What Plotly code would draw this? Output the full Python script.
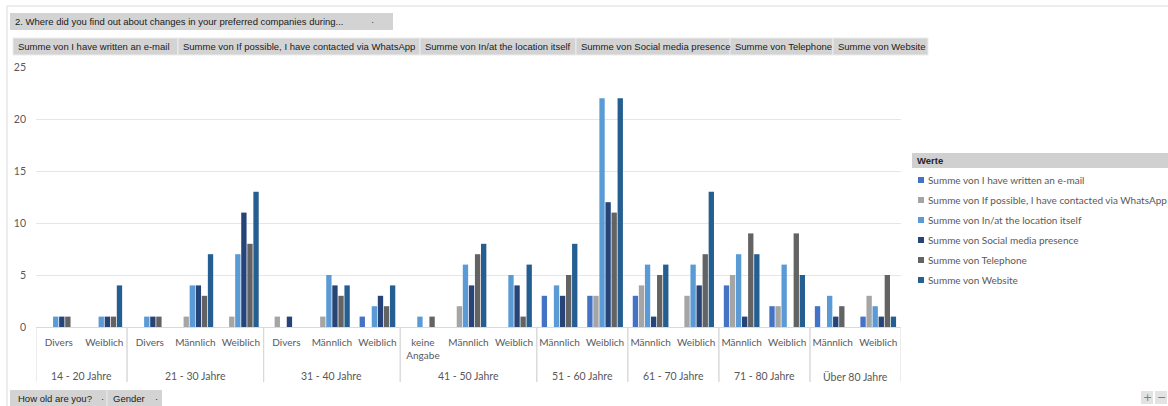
import plotly.graph_objects as go

# ---- data ----
age_groups = ["14 - 20 Jahre", "14 - 20 Jahre",
              "21 - 30 Jahre", "21 - 30 Jahre", "21 - 30 Jahre",
              "31 - 40 Jahre", "31 - 40 Jahre", "31 - 40 Jahre",
              "41 - 50 Jahre", "41 - 50 Jahre", "41 - 50 Jahre",
              "51 - 60 Jahre", "51 - 60 Jahre",
              "61 - 70 Jahre", "61 - 70 Jahre",
              "71 - 80 Jahre", "71 - 80 Jahre",
              "Über 80 Jahre", "Über 80 Jahre"]
genders = ["Divers", "Weiblich",
           "Divers", "Männlich", "Weiblich",
           "Divers", "Männlich", "Weiblich",
           "keine<br>Angabe", "Männlich", "Weiblich",
           "Männlich", "Weiblich",
           "Männlich", "Weiblich",
           "Männlich", "Weiblich",
           "Männlich", "Weiblich"]

series_names = ["Summe von I have written an e-mail",
                "Summe von If possible, I have contacted via WhatsApp",
                "Summe von In/at the location itself",
                "Summe von Social media presence",
                "Summe von Telephone",
                "Summe von Website"]

email     = [0, 0, 0, 0, 0, 0, 0, 1, 0, 0, 0, 3, 3, 3, 0, 4, 2, 2, 1]
whatsapp  = [0, 0, 0, 1, 1, 1, 1, 0, 0, 2, 0, 0, 3, 4, 3, 5, 2, 0, 3]
location  = [1, 1, 1, 4, 7, 0, 5, 2, 1, 6, 5, 4, 22, 6, 6, 7, 6, 3, 2]
social    = [1, 1, 1, 4, 11, 1, 4, 3, 0, 4, 4, 3, 12, 1, 4, 1, 0, 1, 1]
telephone = [1, 1, 1, 3, 8, 0, 3, 2, 1, 7, 1, 5, 11, 5, 7, 9, 9, 2, 5]
website   = [0, 4, 0, 7, 13, 0, 4, 4, 0, 8, 6, 8, 22, 6, 13, 7, 5, 0, 1]

series_values = [email, whatsapp, location, social, telephone, website]
series_colors = ["#4472C4", "#A5A5A5", "#5B9BD5", "#264478", "#636363", "#255E91"]

y_ticks = [0, 5, 10, 15, 20, 25]

filter_title = "2. Where did you find out about changes in your preferred companies during..."
legend_title = "Werte"
bottom_fields = ["How old are you?", "Gender"]

# ---- layout helpers (pixel -> paper) ----
W, H = 1168, 406
L, R, T, B = 36, 901, 67, 327


def px(x):
    return (x - L) / (R - L)


def py(y):
    return (B - y) / (B - T)


# unique category keys (age group + gender)
cat_keys = [a + " | " + g for a, g in zip(age_groups, genders)]

fig = go.Figure()
for name, vals, col in zip(series_names, series_values, series_colors):
    fig.add_trace(go.Bar(x=cat_keys, y=vals, name=name,
                         marker=dict(color=col, line=dict(width=0)),
                         showlegend=False))

shapes = []
annots = []
FONT_BTN = "Liberation Sans"
BTN_SIZE = 9.5
FONT = "Lato"

# outer border
shapes.append(dict(type="rect", xref="paper", yref="paper", x0=px(7), x1=px(1180),
                   y0=py(420), y1=py(6), line=dict(color="#d9d9d9", width=1),
                   fillcolor="rgba(0,0,0,0)", layer="below"))

# group dividers and outer (age group) labels
groups = []
for i, a in enumerate(age_groups):
    if not groups or groups[-1][0] != a:
        groups.append([a, i, i])
    else:
        groups[-1][2] = i
for a, i0, i1 in groups:
    for xe in (i0 - 0.5, i1 + 0.5):
        shapes.append(dict(type="line", xref="x", yref="paper", x0=xe, x1=xe,
                           y0=py(382), y1=py(327), line=dict(color="#d9d9d9", width=1)))
    annots.append(dict(xref="x", yref="paper", x=(i0 + i1) / 2, y=py(376), text=a,
                       showarrow=False, xanchor="center", yanchor="middle",
                       font=dict(family=FONT, size=10.5, color="#595959")))

# top filter button
shapes.append(dict(type="rect", xref="paper", yref="paper", x0=px(10), x1=px(393),
                   y0=py(30), y1=py(13), line=dict(width=0), fillcolor="#d3d3d3", layer="below"))
annots.append(dict(xref="paper", yref="paper", x=px(13), y=py(21.5), text=filter_title,
                   showarrow=False, xanchor="left", yanchor="middle",
                   font=dict(family=FONT_BTN, size=BTN_SIZE, color="#1a1a1a")))
annots.append(dict(xref="paper", yref="paper", x=px(372), y=py(21.5), text="·",
                   showarrow=False, xanchor="center", yanchor="middle",
                   font=dict(family=FONT_BTN, size=BTN_SIZE, color="#404040")))

# field buttons (one per series)
btn_edges = [13, 178, 420, 576, 730, 833, 928]
for i, name in enumerate(series_names):
    x0, x1 = btn_edges[i], btn_edges[i + 1]
    shapes.append(dict(type="rect", xref="paper", yref="paper", x0=px(x0), x1=px(x1),
                       y0=py(55), y1=py(38), line=dict(color="#ececec", width=1),
                       fillcolor="#d3d3d3", layer="below"))
    annots.append(dict(xref="paper", yref="paper", x=px(x0 + 3), y=py(46.5), text=name,
                       showarrow=False, xanchor="left", yanchor="middle",
                       font=dict(family=FONT_BTN, size=BTN_SIZE, color="#1a1a1a")))

# legend (manual, Excel-like)
shapes.append(dict(type="rect", xref="paper", yref="paper", x0=px(912), x1=px(1172),
                   y0=py(168), y1=py(153), line=dict(width=0), fillcolor="#d0d0d0", layer="below"))
annots.append(dict(xref="paper", yref="paper", x=px(915), y=py(160.5), text="<b>" + legend_title + "</b>",
                   showarrow=False, xanchor="left", yanchor="middle",
                   font=dict(family=FONT_BTN, size=BTN_SIZE, color="#262626")))
for i, (name, col) in enumerate(zip(series_names, series_colors)):
    yc = 180 + 20 * i
    shapes.append(dict(type="rect", xref="paper", yref="paper", x0=px(918), x1=px(924),
                       y0=py(yc + 3), y1=py(yc - 3), line=dict(width=0), fillcolor=col))
    annots.append(dict(xref="paper", yref="paper", x=px(926), y=py(yc), text=name,
                       showarrow=False, xanchor="left", yanchor="middle",
                       font=dict(family=FONT, size=10, color="#595959")))

# bottom field buttons
shapes.append(dict(type="rect", xref="paper", yref="paper", x0=px(10), x1=px(162),
                   y0=py(406), y1=py(390), line=dict(width=0), fillcolor="#d3d3d3", layer="below"))
shapes.append(dict(type="line", xref="paper", yref="paper", x0=px(107), x1=px(107),
                   y0=py(406), y1=py(390), line=dict(color="#ececec", width=1)))
for txt, xx in [(bottom_fields[0], 16), ("·", 99), (bottom_fields[1], 111), ("·", 153)]:
    annots.append(dict(xref="paper", yref="paper", x=px(xx), y=py(398), text=txt,
                       showarrow=False, xanchor="left", yanchor="middle",
                       font=dict(family=FONT_BTN, size=BTN_SIZE, color="#1a1a1a")))

# +/- buttons
for x0, sym in [(1141, "+"), (1155, "−")]:
    shapes.append(dict(type="rect", xref="paper", yref="paper", x0=px(x0), x1=px(x0 + 12),
                       y0=py(404), y1=py(391), line=dict(width=0), fillcolor="#e3e3e3"))
    annots.append(dict(xref="paper", yref="paper", x=px(x0 + 6), y=py(397.5), text=sym,
                       showarrow=False, xanchor="center", yanchor="middle",
                       font=dict(family="DejaVu Sans", size=11, color="#7f7f7f")))

fig.update_layout(
    width=W, height=H,
    margin=dict(l=L, r=W - R, t=T, b=H - B, pad=0, autoexpand=False),
    paper_bgcolor="white", plot_bgcolor="white",
    barmode="group", bargap=0.2, bargroupgap=0.12,
    shapes=shapes, annotations=annots,
    font=dict(family=FONT, size=11, color="#595959"),
)
fig.update_xaxes(type="category", tickvals=cat_keys, ticktext=genders, tickangle=0,
                 range=[-0.5, len(cat_keys) - 0.5], automargin=False,
                 showgrid=False, showline=True, linecolor="#d9d9d9", linewidth=1,
                 ticks="", ticklabelstandoff=6,
                 tickfont=dict(family=FONT, size=10, color="#595959"))
fig.update_yaxes(range=[0, 25], tickvals=y_ticks, showgrid=True, gridcolor="#e6e6e6",
                 gridwidth=1, zeroline=False, showline=False, ticks="", automargin=False,
                 ticklabelstandoff=9, tickfont=dict(family=FONT, size=10.5, color="#595959"))

fig.write_html("out.html")
